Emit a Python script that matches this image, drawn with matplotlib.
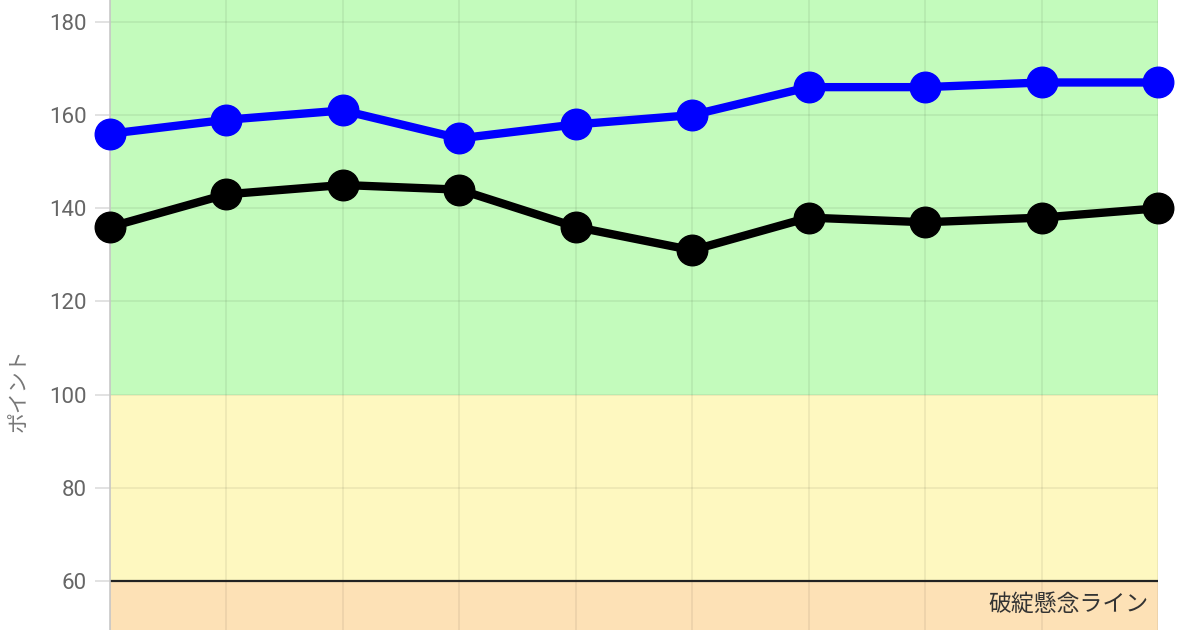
import matplotlib
matplotlib.use("Agg")
import matplotlib.pyplot as plt

plt.rcParams['font.family'] = ['Roboto', 'Noto Sans CJK JP', 'DejaVu Sans']

x_idx = list(range(10))
blue_vals = [156, 159, 161, 155, 158, 160, 166, 166, 167, 167]
black_vals = [136, 143, 145, 144, 136, 131, 138, 137, 138, 140]
y_ticks = [60, 80, 100, 120, 140, 160, 180]
y_label = "ポイント"
line_label = "破綻懸念ライン"
bands = [(0, 60, '#fde1b6'), (60, 100, '#fef8c0'), (100, 300, '#c3fbbc')]

fig = plt.figure(figsize=(12, 6.3), dpi=100)
ax = fig.add_axes([110/1200, 0, (1158-110)/1200, 1])
ymin, ymax = 49.5, 184.7
ax.set_ylim(ymin, ymax)
ax.set_xlim(0, 9)

for lo, hi, c in bands:
    ax.axhspan(lo, hi, color=c, zorder=0, lw=0)

ax.axhline(60, color='#222222', lw=1.6, zorder=2)

ax.set_yticks(y_ticks)
ax.set_xticks(x_idx)
ax.set_xticklabels([])
ax.grid(True, color='#000000', alpha=0.07, lw=1.2, zorder=1)
ax.set_axisbelow(True)
ax.tick_params(axis='y', length=11, color='#dddddd', width=1.2, labelsize=16,
               labelcolor='#666666', pad=6)
ax.tick_params(axis='x', length=0)
for s in ['top', 'right', 'bottom']:
    ax.spines[s].set_visible(False)
ax.spines['left'].set_color('#c8c8c8')
ax.spines['left'].set_linewidth(1.2)

ax.plot(x_idx, blue_vals, color='#0000ff', lw=6, marker='o', markersize=22,
        zorder=4, clip_on=False)
ax.plot(x_idx, black_vals, color='#000000', lw=6, marker='o', markersize=22,
        zorder=4, clip_on=False)

ax.text(8.92, 55.0, line_label, ha='right', va='center', fontsize=16.5,
        color='#333333', family=['Noto Sans CJK JP', 'DejaVu Sans'])

fig.text(19/1200, 1 - 390/630, y_label, rotation=90, ha='center', va='center',
         fontsize=15, color='#777777', family=['Noto Sans CJK JP', 'DejaVu Sans'])

fig.savefig('out.png', dpi=100)
